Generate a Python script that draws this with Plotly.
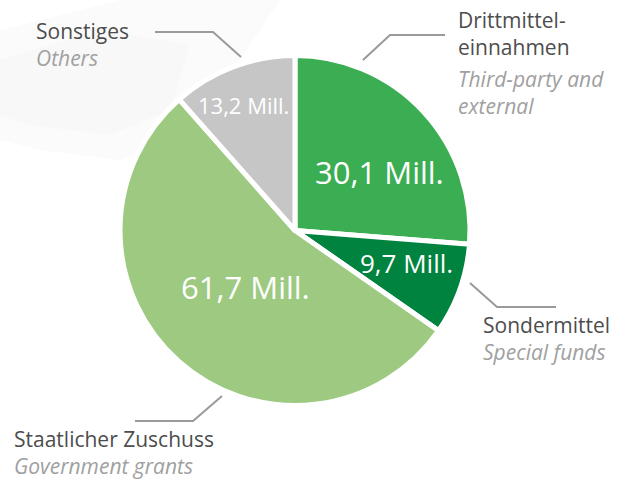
import plotly.graph_objects as go

labels_de = [["Drittmittel-", "einnahmen"], ["Sondermittel"], ["Staatlicher Zuschuss"], ["Sonstiges"]]
labels_en = [["Third-party and", "external"], ["Special funds"], ["Government grants"], ["Others"]]
values = [30.1, 9.7, 61.7, 13.2]
value_text = ["30,1 Mill.", "9,7 Mill.", "61,7 Mill.", "13,2 Mill."]
colors = ["#3bad53", "#00833e", "#9dca80", "#c6c6c6"]

W, H = 627, 480
cx, cy, R = 295, 230.5, 175

fig = go.Figure()
fig.add_trace(go.Pie(
    labels=[" ".join(l) for l in labels_de],
    values=values,
    textinfo="none",
    marker=dict(colors=colors, line=dict(color="white", width=5)),
    sort=False,
    direction="clockwise",
    rotation=0,
    showlegend=False,
    hoverinfo="label+value",
    domain=dict(x=[(cx - R) / W, (cx + R) / W], y=[(H - cy - R) / H, (H - cy + R) / H]),
))

def px(x):
    return x / W

def py(y):
    return 1 - y / H

def path_of(pts, close=False):
    p = "M " + " L ".join(f"{px(x)},{py(y)}" for x, y in pts)
    return p + (" Z" if close else "")

shapes = []
# very faint background decoration (top-left)
shapes.append(dict(type="path", layer="below", xref="paper", yref="paper",
                   path=path_of([(0, 30), (120, 0), (280, 0), (240, 60), (200, 130), (120, 160), (40, 150), (0, 140)], True),
                   fillcolor="#fbfbfb", line=dict(width=0)))
shapes.append(dict(type="path", layer="below", xref="paper", yref="paper",
                   path=path_of([(0, 60), (100, 30), (190, 45), (170, 110), (110, 135), (30, 125), (0, 115)], True),
                   fillcolor="#f8f8f8", line=dict(width=0)))

line_col = "#9a9a9a"
leaders = [
    [(445, 35), (390, 35), (363, 60)],
    [(470, 283), (497, 307), (556, 307)],
    [(222, 396), (193, 421), (135, 421)],
    [(155, 32), (213, 32), (241, 57)],
]
for pts in leaders:
    shapes.append(dict(type="path", path=path_of(pts), xref="paper", yref="paper",
                       line=dict(color=line_col, width=2)))

anns = []
FONT = "Open Sans"
de_color = "#4d4d4d"
en_color = "#a0a0a0"

def en_span(lines):
    return "<br>".join(f'<span style="color:{en_color}"><i>{t}</i></span>' for t in lines)

def add_label(x, y, text):
    anns.append(dict(x=px(x), y=py(y), xref="paper", yref="paper", xanchor="left", yanchor="middle",
                     text=text, showarrow=False, align="left",
                     font=dict(family=FONT, size=21, color=de_color)))

# Drittmittel: German and English blocks separated by a larger gap
add_label(456, 34, "<br>".join(labels_de[0]))
add_label(456, 92, en_span(labels_en[0]))
# the others: German line + English line in one block
single_pos = {1: (481, 338.5), 2: (12, 452.5), 3: (34, 44)}
for i, (x, y) in single_pos.items():
    add_label(x, y, "<br>".join(labels_de[i]) + "<br>" + en_span(labels_en[i]))

# value labels inside slices
inner_pos = [(379, 171.5, 31), (406, 262.5, 26), (245, 286.5, 31), (243.5, 105.5, 22)]
for t, (x, y, s) in zip(value_text, inner_pos):
    anns.append(dict(x=px(x), y=py(y), xref="paper", yref="paper", xanchor="center", yanchor="middle",
                     text=t, showarrow=False,
                     font=dict(family=FONT, size=s, color="white")))

fig.update_layout(
    width=W, height=H,
    margin=dict(l=0, r=0, t=0, b=0),
    paper_bgcolor="white",
    plot_bgcolor="white",
    shapes=shapes,
    annotations=anns,
)
fig.write_html("out.html", config={"displayModeBar": False},
               post_script="document.body.style.margin='0';")
